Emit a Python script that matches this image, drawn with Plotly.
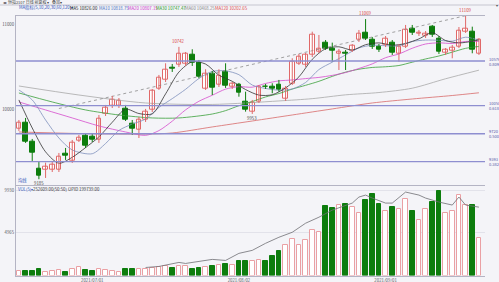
import plotly.graph_objects as go

# ---------------- data ----------------
idx = list(range(1, 71))
opens = [9785, 9850, 9627, 9314, 9302, 9302, 9294, 9490, 9400, 9639,
         9694, 9686, 9647, 9953, 10047, 10047, 10020, 9835, 9765, 9882,
         10000, 10255, 10353, 10502, 10529, 10549, 10647, 10556, 10255, 10432,
         10294, 10450, 10274, 10294, 10098, 9980, 10098, 10279, 10274, 10294,
         10138, 10314, 10549, 10529, 10647, 10686, 10792, 10726, 10667, 10674,
         10697, 10832, 10914, 10823, 10745, 10765, 10792, 10667, 10745, 10961,
         10894, 10879, 10980, 10843, 10674, 10697, 10745, 10921, 10921, 10667]
highs = [9882, 9906, 9659, 9392, 9380, 9400, 9494, 9553, 9647, 9706,
         9729, 9729, 9941, 10059, 10165, 10141, 10059, 9882, 9918, 10012,
         10247, 10412, 10549, 10541, 10742, 10682, 10714, 10588, 10479, 10459,
         10479, 10549, 10329, 10318, 10215, 10118, 10294, 10306, 10314, 10353,
         10282, 10608, 10659, 10670, 10921, 10882, 10823, 10792, 10718, 10706,
         10776, 10941, 11069, 10859, 10776, 10870, 10823, 10776, 11000, 11000,
         10941, 10929, 11000, 10870, 10729, 10765, 10976, 11109, 10980, 10847]
lows = [9753, 9612, 9400, 9185, 9200, 9270, 9270, 9412, 9376, 9623,
        9553, 9623, 9612, 9929, 10023, 10023, 9870, 9706, 9670, 9859,
        9976, 10235, 10329, 10447, 10506, 10518, 10518, 10373, 10235, 10176,
        10270, 10259, 10247, 10156, 9980, 9953, 10082, 10247, 10196, 10215,
        10106, 10294, 10529, 10506, 10623, 10670, 10706, 10568, 10470, 10470,
        10682, 10800, 10823, 10718, 10682, 10741, 10647, 10568, 10729, 10882,
        10870, 10847, 10859, 10659, 10647, 10608, 10729, 10906, 10667, 10647]
closes = [9850, 9627, 9502, 9223, 9333, 9353, 9450, 9467, 9615, 9679,
          9576, 9647, 9902, 10032, 10118, 10106, 9890, 9785, 9890, 9980,
          10223, 10385, 10470, 10491, 10659, 10659, 10556, 10392, 10432, 10267,
          10400, 10282, 10306, 10203, 10008, 10086, 10274, 10270, 10255, 10243,
          10255, 10568, 10627, 10647, 10882, 10726, 10726, 10697, 10686, 10659,
          10753, 10902, 10843, 10745, 10706, 10843, 10674, 10745, 10941, 10909,
          10914, 10902, 10882, 10686, 10706, 10737, 10933, 10961, 10706, 10823]
volumes = [545, 505, 545, 700, 465, 545, 625, 430, 700, 1010,
           625, 505, 780, 625, 545, 465, 740, 780, 740, 780,
           855, 975, 1090, 820, 1130, 1050, 740, 895, 1010, 1130,
           1205, 1285, 1245, 1635, 1675, 1675, 1830, 1715, 2220, 2845,
           3505, 4245, 3505, 4165, 5335, 5060, 8100, 7790, 8140, 8295,
           7905, 7205, 8800, 9425, 8255, 7475, 7905, 7710, 8880, 7475,
           6425, 7670, 8530, 9815, 7205, 7440, 9345, 8180, 8180, 4400]

oi_idx = [20, 22, 25, 26, 30, 32, 34, 36, 38, 40, 42, 44, 46, 48, 51, 52, 53,
          54, 56, 57, 59, 61, 62, 64, 66, 67, 68, 70]
oi_val = [930, 1050, 1520, 1400, 1870, 1750, 2570, 2920, 3740, 4440, 5020, 6070,
          6770, 7590, 8410, 9110, 9340, 8990, 8410, 8410, 9690, 9340, 8990, 8530,
          8180, 9110, 8180, 7940]

ma5_idx = [1, 3, 5, 7, 9, 11, 13, 15, 17, 19, 21, 23, 25, 27, 29, 31, 33, 35, 37,
           39, 41, 43, 45, 47, 49, 51, 53, 55, 57, 59, 61, 63, 65, 67, 69, 70]
ma5_val = [10118, 9788, 9507, 9373, 9443, 9557, 9683, 9855, 10009, 9958, 9954,
           10189, 10446, 10567, 10540, 10409, 10337, 10240, 10175, 10179, 10260,
           10389, 10596, 10721, 10743, 10705, 10768, 10789, 10762, 10782, 10836,
           10909, 10817, 10789, 10808, 10826]
ma10_idx = [1, 3, 5, 7, 9, 12, 14, 16, 18, 20, 22, 24, 26, 28, 30, 32, 34, 36, 38,
            40, 42, 44, 46, 48, 50, 52, 54, 56, 58, 60, 62, 64, 66, 68, 70]
ma10_val = [10235, 10118, 9882, 9670, 9529, 9485, 9605, 9759, 9834, 9893, 10030,
            10133, 10243, 10370, 10453, 10460, 10415, 10293, 10253, 10233, 10247,
            10323, 10475, 10562, 10647, 10730, 10761, 10756, 10755, 10806, 10822,
            10820, 10809, 10856, 10819]
ma20_idx = [1, 5, 9, 13, 17, 20, 22, 24, 26, 28, 30, 32, 34, 36, 38, 40, 42, 44,
            46, 48, 50, 52, 54, 56, 58, 60, 62, 64, 66, 68, 70]
ma20_val = [10094, 10000, 9906, 9812, 9741, 9701, 9757, 9868, 10001, 10102, 10173,
            10245, 10274, 10268, 10312, 10342, 10353, 10369, 10383, 10407, 10440,
            10488, 10542, 10615, 10659, 10726, 10776, 10790, 10782, 10806, 10807]
ma30_idx = [1, 6, 11, 16, 21, 25, 30, 32, 34, 36, 38, 40, 42, 44, 46, 48, 50, 52,
            54, 56, 58, 60, 62, 64, 66, 68, 70]
ma30_val = [10200, 10094, 10000, 9941, 9906, 9906, 9952, 9992, 10050, 10099, 10153,
            10193, 10246, 10290, 10337, 10395, 10445, 10479, 10500, 10508, 10523,
            10562, 10600, 10635, 10680, 10725, 10747]
ma60_idx = [1, 10, 20, 30, 40, 45, 50, 55, 60, 65, 70]
ma60_val = [10282, 10176, 10082, 10065, 10106, 10133, 10178, 10205, 10256, 10367, 10468]
ma120_idx = [1, 10, 20, 24, 30, 36, 42, 48, 54, 60, 66, 70]
ma120_val = [9741, 9723, 9717, 9729, 9800, 9870, 9941, 10012, 10082, 10129, 10170, 10202]

trend_idx = [7, 68]
trend_val = [10017, 11109]

fib_prices = [10576, 10050, 9720, 9393]
fib_ratios = ["0.809", "0.618", "0.500", "0.382"]

legend_items = [("MA指标(5,10,20,30,60,120)▾", "#3355bb"),
                ("MA5 10826.00", "#222222"),
                ("MA10 10818.75", "#4a6fc0"),
                ("MA20 10807.15", "#cc33cc"),
                ("MA30 10747.47", "#229922"),
                ("MA60 10468.25", "#888888"),
                ("MA120 10202.65", "#dd4444")]
date_idx = [12, 34, 56]
date_text = ["2021/07/01", "2021/08/02", "2021/09/01"]

# ---------------- style ----------------
W, H = 499, 282
BG = "#f4f4f8"
UP = "#e06868"
UPV = "#eaa0a4"
DN = "#0d7d0d"
AX = "#b4b4c4"
FIB = "#8e8ed0"
FONT = "Noto Sans CJK SC"
FS = 4.3
X0, X1 = 16 / W, 485 / W
XR = [0.565, 70.91]


def py(px):
    return 1 - px / H


fig = go.Figure()
up = [c >= o for o, c in zip(opens, closes)]

# MA lines
for xi, yv, col in [(ma120_idx, ma120_val, "#d86a6a"), (ma60_idx, ma60_val, "#a8a8a8"),
                    (ma30_idx, ma30_val, "#3aa03a"), (ma20_idx, ma20_val, "#d54ccd"),
                    (ma10_idx, ma10_val, "#7f90bc"), (ma5_idx, ma5_val, "#333333")]:
    fig.add_trace(go.Scatter(x=xi, y=yv, mode="lines", line=dict(color=col, width=0.8, shape="spline", smoothing=0.8),
                             xaxis="x", yaxis="y", hoverinfo="skip"))
fig.add_trace(go.Scatter(x=trend_idx, y=trend_val, mode="lines", line=dict(color="#8a8a8a", width=0.8, dash="dot"),
                         xaxis="x", yaxis="y", hoverinfo="skip"))

# wicks
for flag, col in [(True, UP), (False, DN)]:
    xs, ys = [], []
    for i, h, l, u in zip(idx, highs, lows, up):
        if u == flag:
            xs += [i, i, None]
            ys += [l, h, None]
    fig.add_trace(go.Scatter(x=xs, y=ys, mode="lines", line=dict(color=col, width=1),
                             xaxis="x", yaxis="y", hoverinfo="skip"))
# bodies
fig.add_trace(go.Bar(x=idx, base=[min(o, c) for o, c in zip(opens, closes)],
                     y=[abs(c - o) for o, c in zip(opens, closes)], width=0.7,
                     marker=dict(color=["#ffffff" if u else DN for u in up],
                                 line=dict(color=[UP if u else DN for u in up], width=1)),
                     xaxis="x", yaxis="y", hoverinfo="skip"))

# volume
fig.add_trace(go.Bar(x=idx, y=volumes, width=0.7,
                     marker=dict(color=["#ffffff" if u else DN for u in up],
                                 line=dict(color=[UPV if u else DN for u in up], width=1)),
                     xaxis="x2", yaxis="y2", hoverinfo="skip"))
fig.add_trace(go.Scatter(x=oi_idx, y=oi_val, mode="lines", line=dict(color="#6e6e74", width=0.8),
                         xaxis="x2", yaxis="y2", hoverinfo="skip"))

shapes = []
ann = []
for p, r in zip(fib_prices, fib_ratios):
    shapes.append(dict(type="line", xref="x domain", yref="y", x0=0, x1=1, y0=p, y1=p,
                       line=dict(color=FIB, width=1.3)))
    ann.append(dict(xref="paper", yref="y", x=486.5 / W, y=p, xanchor="left", yanchor="middle",
                    text=f"{p}<br>{r}", showarrow=False, align="left",
                    font=dict(size=4, color="#5a5aa8", family=FONT)))
# toolbar separator
shapes.append(dict(type="line", xref="paper", yref="paper", x0=0, x1=1, y0=py(5), y1=py(5),
                   line=dict(color="#c6c6d0", width=1)))

# legend row
xs_leg = [17, 68, 97, 126, 154, 183, 213]
for (t, c), xp in zip(legend_items, xs_leg):
    ann.append(dict(xref="paper", yref="paper", x=xp / W, y=py(7.6), xanchor="left", yanchor="middle",
                    text=t, showarrow=False, font=dict(size=FS, color=c, family=FONT)))
# toolbar text
for t, xp in [("◂▸ 恒指2107 日线 前复权 ▾", 1), ("叠加▾", 50)]:
    ann.append(dict(xref="paper", yref="paper", x=xp / W, y=py(2.4), xanchor="left", yanchor="middle",
                    text=t, showarrow=False, font=dict(size=4, color="#444444", family=FONT)))
ann.append(dict(xref="paper", yref="paper", x=497 / W, y=py(5), xanchor="center", yanchor="middle",
                text="▾", showarrow=False, font=dict(size=4, color="#555555", family=FONT)))
# volume legend
for t, c, xp in [("VOL(5)▾", "#3355bb", 16), ("252609.00(50:50)", "#333333", 31), ("OPID 199739.00", "#333333", 66)]:
    ann.append(dict(xref="paper", yref="paper", x=xp / W, y=py(188.6), xanchor="left", yanchor="middle",
                    text=t, showarrow=False, font=dict(size=FS, color=c, family=FONT)))
ann.append(dict(xref="paper", yref="paper", x=16 / W, y=py(180.5), xanchor="left", yanchor="middle",
                text="均线", showarrow=False, font=dict(size=FS, color="#3355bb", family=FONT)))

# extreme labels
for i, txt, col, pos in [(25, "10742", "#d83a3a", "hi"), (53, "11069", "#d83a3a", "hi"),
                         (68, "11109", "#d83a3a", "hi"), (36, "9953", "#444444", "lo"),
                         (4, "9185", "#444444", "lo")]:
    yv = highs[i - 1] if pos == "hi" else lows[i - 1]
    ann.append(dict(xref="x", yref="y", x=i, y=yv, xanchor="center",
                    yanchor="bottom" if pos == "hi" else "top",
                    yshift=1 if pos == "hi" else 1,
                    text=txt, showarrow=False, font=dict(size=FS, color=col, family=FONT)))

fig.update_layout(
    width=W, height=H, margin=dict(l=0, r=0, t=0, b=0), autosize=False,
    paper_bgcolor=BG, plot_bgcolor=BG, showlegend=False, barmode="overlay", bargap=0,
    font=dict(family=FONT, size=FS, color="#555560"),
    shapes=shapes, annotations=ann,
    xaxis=dict(domain=[X0, X1], range=XR, anchor="y", showticklabels=False, showgrid=False,
               zeroline=False, showline=True, linecolor=AX, linewidth=1, mirror=True, ticks=""),
    yaxis=dict(domain=[py(185), py(15.7)], range=[9117, 11109], anchor="x",
               tickvals=[10000, 11000], ticktext=["10000", "11000"], ticks="", ticklen=0,
               tickfont=dict(size=FS, color="#555560", family=FONT), showgrid=False, zeroline=False,
               showline=True, linecolor=AX, linewidth=1, automargin=False),
    xaxis2=dict(domain=[X0, X1], range=XR, anchor="y2", tickvals=date_idx, ticktext=date_text,
                tickfont=dict(size=FS, color="#555560", family=FONT), ticks="", showgrid=False,
                zeroline=False, showline=True, linecolor=AX, linewidth=1, automargin=False),
    yaxis2=dict(domain=[py(275.5), py(186)], range=[0, 10394], anchor="x2",
                tickvals=[4965, 9930], ticktext=["4965", "9930"], ticks="",
                tickfont=dict(size=FS, color="#555560", family=FONT), showgrid=True, gridcolor="#e2e2ea",
                gridwidth=1, zeroline=False, showline=True, linecolor=AX, linewidth=1, automargin=False),
)

fig.write_html("out.html")
